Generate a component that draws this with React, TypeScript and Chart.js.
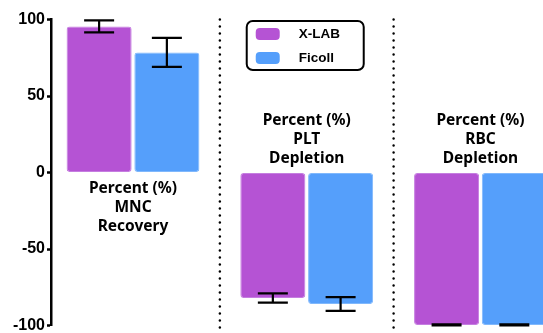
import React, { useEffect, useRef } from "react";
import { Chart, registerables } from "chart.js";

Chart.register(...registerables);

const categories = ["MNC", "PLT", "RBC"];
const categoryTitles = [
  ["Percent (%)", "MNC", "Recovery"],
  ["Percent (%)", "PLT", "Depletion"],
  ["Percent (%)", "RBC", "Depletion"],
];
const seriesNames = ["X-LAB", "Ficoll"];
const xlabValues = [95.5, -82, -99.6];
const xlabErrors = [3.9, 3, 0.3];
const ficollValues = [78.5, -86, -99.6];
const ficollErrors = [9.5, 4.5, 0.3];
const yTicks = [-100, -50, 0, 50, 100];

const PURPLE = "#b553d4";
const BLUE = "#559ffb";

const overlay = {
  id: "overlay",
  afterDatasetsDraw(chart: any) {
    const ctx = chart.ctx;
    const xs = chart.scales.x;
    const ys = chart.scales.y;
    ctx.save();
    // error bars
    chart.data.datasets.forEach((ds: any, i: number) => {
      const meta = chart.getDatasetMeta(i);
      meta.data.forEach((bar: any, j: number) => {
        const v = ds.data[j].y;
        const e = ds.errors[j];
        const cx = bar.x;
        const yt = ys.getPixelForValue(v + e);
        const yb = ys.getPixelForValue(v - e);
        ctx.strokeStyle = "#000";
        ctx.lineWidth = 2.2;
        ctx.beginPath();
        ctx.moveTo(cx, yt);
        ctx.lineTo(cx, yb);
        ctx.moveTo(cx - 15, yt);
        ctx.lineTo(cx + 15, yt);
        ctx.moveTo(cx - 15, yb);
        ctx.lineTo(cx + 15, yb);
        ctx.stroke();
      });
    });
    // dotted separators
    ctx.fillStyle = "#000";
    for (let k = 0; k < categories.length - 1; k++) {
      const px = xs.getPixelForValue(k + 0.5);
      for (let py = ys.top; py < chart.height; py += 7) {
        ctx.beginPath();
        ctx.arc(px, py, 1.2, 0, Math.PI * 2);
        ctx.fill();
      }
    }
    // category titles
    const zero = ys.getPixelForValue(0);
    ctx.font = "bold 15.5px 'Noto Sans'";
    ctx.textAlign = "center";
    ctx.textBaseline = "middle";
    ctx.fillStyle = "#000";
    categoryTitles.forEach((lines, j) => {
      const cx = xs.getPixelForValue(j);
      const positive = xlabValues[j] >= 0;
      const lh = 19;
      lines.forEach((t, k) => {
        const py = positive
          ? zero + 16 + k * lh
          : zero - 14 - (lines.length - 1 - k) * lh;
        ctx.fillText(t, cx, py);
      });
    });
    // legend
    const lx = xs.getPixelForValue(1) - 60;
    const ly = 21;
    const lw = 117;
    const lhgt = 49;
    ctx.lineWidth = 2;
    ctx.strokeStyle = "#000";
    ctx.beginPath();
    ctx.roundRect(lx, ly, lw, lhgt, 6);
    ctx.stroke();
    const colors = [PURPLE, BLUE];
    ctx.font = "bold 13.5px 'Liberation Sans'";
    ctx.textAlign = "left";
    seriesNames.forEach((name, i) => {
      const sy = ly + 7 + i * 24;
      ctx.fillStyle = colors[i];
      ctx.beginPath();
      ctx.roundRect(lx + 9, sy, 24, 12, 4);
      ctx.fill();
      ctx.fillStyle = "#000";
      ctx.fillText(name, lx + 52, sy + 6);
    });
    ctx.restore();
  },
};

export default function App() {
  const ref = useRef<HTMLCanvasElement>(null);
  useEffect(() => {
    if (!ref.current) return;
    const chart = new Chart(ref.current, {
      type: "bar",
      data: {
        datasets: [
          {
            label: seriesNames[0],
            data: xlabValues.map((v, i) => ({ x: i, y: v })),
            errors: xlabErrors,
            backgroundColor: PURPLE,
            borderColor: "#c57ee0",
            borderWidth: 1,
            borderRadius: 3,
            borderSkipped: false,
          } as any,
          {
            label: seriesNames[1],
            data: ficollValues.map((v, i) => ({ x: i, y: v })),
            errors: ficollErrors,
            backgroundColor: BLUE,
            borderColor: "#80b8fc",
            borderWidth: 1,
            borderRadius: 3,
            borderSkipped: false,
          } as any,
        ],
      },
      options: {
        animation: false,
        responsive: false,
        categoryPercentage: 0.78,
        barPercentage: 0.96,
        layout: { padding: { top: 19.5, bottom: 7.5, left: 0, right: 0 } },
        plugins: { legend: { display: false }, tooltip: { enabled: false } },
        scales: {
          x: {
            type: "linear",
            display: false,
            min: -0.472,
            max: 2.573,
            offset: false,
            afterBuildTicks: (s: any) => {
              s.ticks = categories.map((_, i) => ({ value: i }));
            },
          },
          y: {
            min: -100,
            max: 100,
            afterBuildTicks: (s: any) => {
              s.ticks = yTicks.map((v) => ({ value: v }));
            },
            afterFit: (s: any) => {
              s.width = 51;
              s.paddingTop = 0;
              s.paddingBottom = 0;
            },
            border: { display: true, color: "#000", width: 2.5 },
            grid: {
              drawOnChartArea: false,
              drawTicks: true,
              tickLength: 4,
              tickWidth: 2.5,
              color: "#000",
            },
            ticks: {
              color: "#000",
              padding: 2,
              font: { family: "'Liberation Sans'", size: 16, weight: "bold" },
            },
          },
        },
      } as any,
      plugins: [overlay],
    });
    return () => chart.destroy();
  }, []);
  return (
    <div
      style={{
        position: "fixed",
        left: 0,
        top: 0,
        width: 543,
        height: 333,
        overflow: "hidden",
        background: "#fff",
      }}
    >
      <canvas ref={ref} width={580} height={333} style={{ display: "block" }} />
    </div>
  );
}
